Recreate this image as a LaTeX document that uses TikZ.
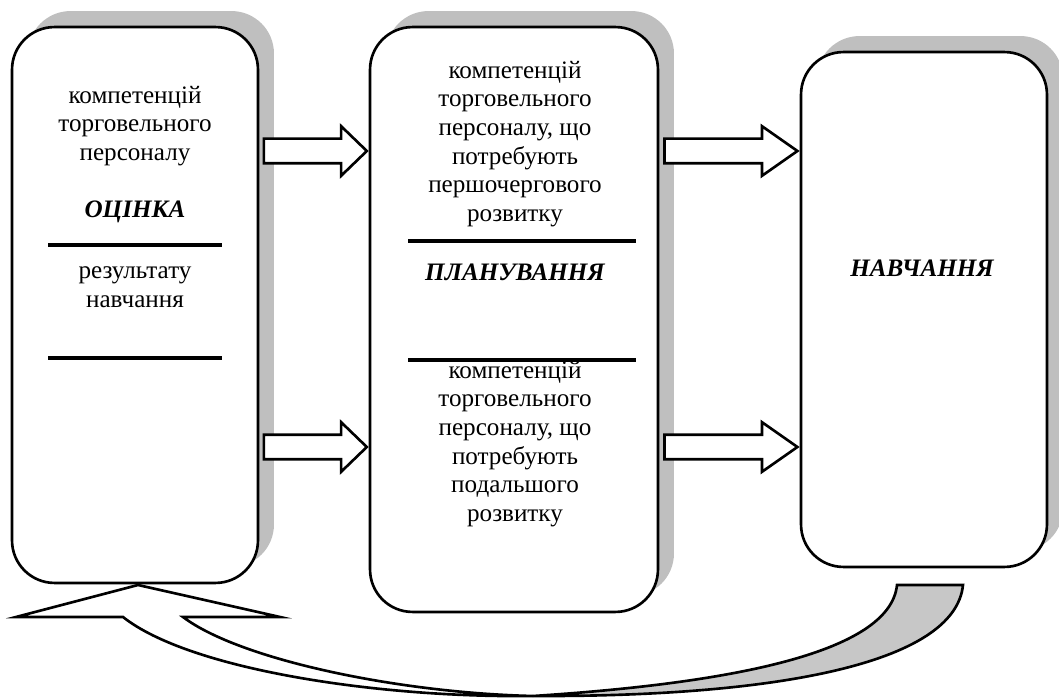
\documentclass[tikz,border=0pt]{standalone}
\usepackage{fontspec}
\setmainfont{Liberation Serif}
\usetikzlibrary{shapes.arrows,shadows,positioning}

\begin{document}
\begin{tikzpicture}[
    x=0.02cm, y=-0.02cm,
    box/.style={rectangle, draw, line width=1.5pt, fill=white, rounded corners=0.85cm,
                drop shadow={shadow xshift=0.32cm, shadow yshift=0.32cm, fill=black!25, opacity=1}},
    txt/.style={align=center, font=\fontsize{14.3}{16.3}\selectfont},
    title/.style={font=\fontsize{14.3}{16.3}\selectfont\bfseries\itshape},
    sep/.style={line width=1.8pt},
    blockarr/.style={single arrow, draw, line width=1.5pt, fill=white, inner xsep=0pt,
                     inner ysep=0.22cm, minimum width=0.98cm, single arrow head extend=0.25cm,
                     anchor=tip}
]
\useasboundingbox (0,0) rectangle (1059,699);

% Boxes
\node[box, minimum width=4.92cm, minimum height=11.12cm] (ocinka) at (135,305) {};
\node[box, minimum width=5.76cm, minimum height=11.7cm] (plan) at (514,319.5) {};
\node[box, minimum width=4.92cm, minimum height=10.3cm] (navch) at (924,309.5) {};

% Left box: evaluation
\node[txt] (oc_top) at (135,126) {компетенцій\\торговельного\\персоналу};
\node[title] (oc_title) at (135,212) {ОЦІНКА};
\draw[sep] (48,245) -- (222,245);
\node[txt] (oc_res) at (135,287) {результату\\навчання};
\draw[sep] (48,358) -- (222,358);

% Middle box: planning
\node[txt] (pl_top) at (515,144) {компетенцій\\торговельного\\персоналу, що\\потребують\\першочергового\\розвитку};
\draw[sep] (408,241) -- (636,241);
\node[title] (pl_title) at (515,272) {ПЛАНУВАННЯ};
\draw[sep] (408,360) -- (636,360);
\node[txt] (pl_bot) at (515,444) {компетенцій\\торговельного\\персоналу, що\\потребують\\подальшого\\розвитку};

% Right box: training
\node[title] (nv_title) at (922,268) {НАВЧАННЯ};

% Block arrows
\node[blockarr, minimum height=2.06cm, single arrow tip angle=88] (a1) at (plan.west |- 0,151) {};
\node[blockarr, minimum height=2.06cm, single arrow tip angle=88] (a2) at (plan.west |- 0,447) {};
\node[blockarr, minimum height=2.66cm, single arrow tip angle=70] (a3) at (navch.west |- 0,151) {};
\node[blockarr, minimum height=2.66cm, single arrow tip angle=70] (a4) at (navch.west |- 0,447) {};

% Curved return arrow
\coordinate (twist) at (533,696);
\draw[line width=1.5pt, fill=black!22] (twist) .. controls (770,697) and (955,665) .. (963,585)
    -- (897,585) .. controls (890,655) and (720,684) .. (twist) -- cycle;
\draw[line width=1.5pt, fill=white] (123,617) .. controls (190,670) and (380,698) .. (twist)
    .. controls (400,693) and (240,660) .. (183,617) -- (280,617) -- (138,585) -- (16,617) -- cycle;

\end{tikzpicture}
\end{document}
